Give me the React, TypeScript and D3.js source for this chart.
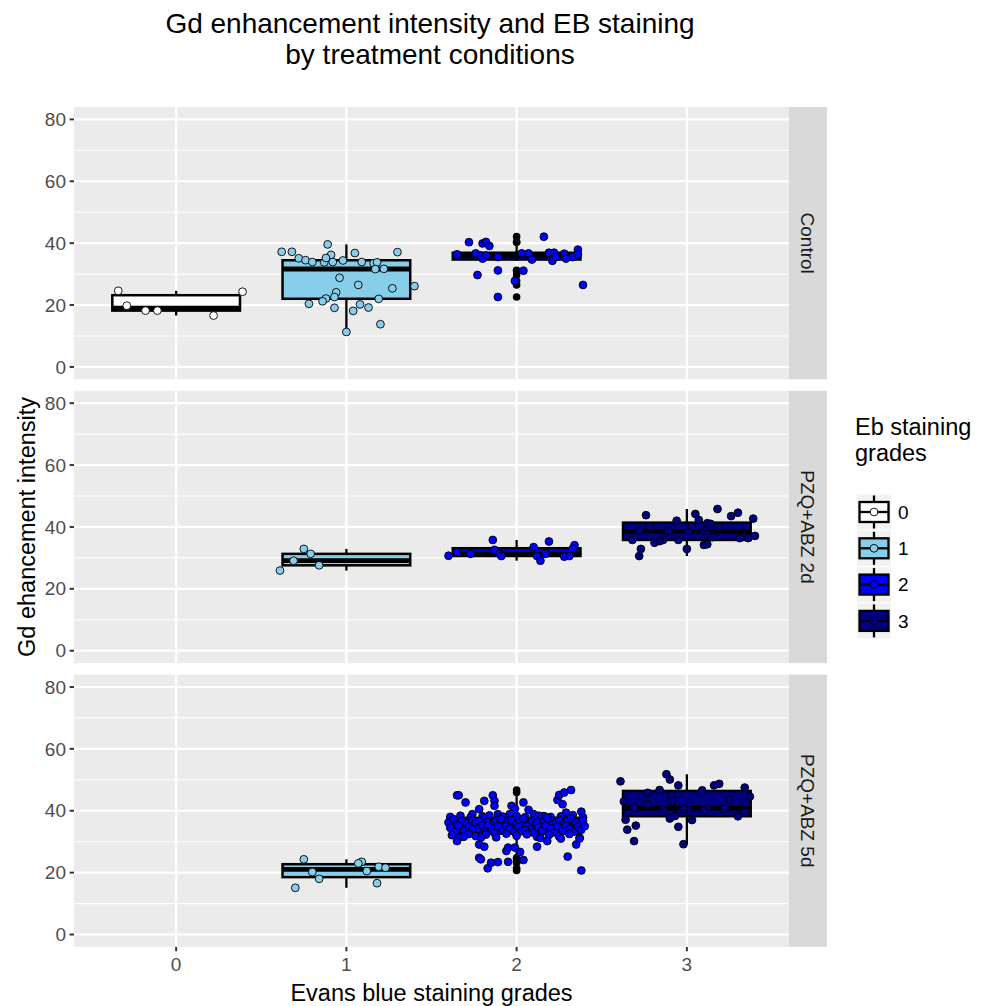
import * as d3 from 'd3'

// facets, grades and axis ticks
const facets = ['Control', 'PZQ+ABZ 2d', 'PZQ+ABZ 5d']
const grades = ['0', '1', '2', '3']
const yTicks = [0, 20, 40, 60, 80]
const yMinorTicks = [10, 30, 50, 70]

// Gd enhancement intensity per lesion.
// *Jitter = horizontal jitter of each point (fraction of a category step).
const control0Values = [24.6, 19.8, 18.2, 18.2, 16.6, 24.3]
const control0Jitter = [-0.34, -0.29, -0.18, -0.11, 0.22, 0.39]

const control1Values = [37.2, 37.2, 35.1, 34.5, 33.9, 33.8, 39.6, 36.2, 35.2, 33.9, 34.4, 36.8, 33.9, 33.5, 33.8, 31.6, 31.7, 37.1,
  28.8, 26.5, 25.4, 26.1, 24.1, 22.6, 22.1, 21.2, 22.0, 20.4, 19.1, 18.1, 20.2, 19.2, 13.8, 11.3]
const control1Jitter = [-0.38, -0.32, -0.28, -0.24, -0.2, -0.13, -0.11, -0.09, -0.12, -0.08, -0.02, 0.05, 0.09, 0.16, 0.18, 0.17, 0.22, 0.3,
  -0.04, 0.07, 0.27, 0.4, -0.06, -0.07, -0.12, -0.14, 0.19, -0.22, -0.07, 0.04, 0.08, 0.13, 0.2, 0.0]

const control2Values = [40.3, 39.9, 40.4, 39.1, 42.1, 36.4, 36.7, 36.0, 35.0, 36.0, 35.5, 36.7, 36.7, 34.7, 36.9, 34.3, 36.9, 35.5,
  36.6, 35.0, 35.5, 37.9, 36.3, 29.7, 31.2, 31.1, 27.8, 26.5, 22.6]
const control2Jitter = [-0.28, -0.2, -0.18, -0.16, 0.16, -0.35, -0.24, -0.21, -0.2, -0.18, -0.11, 0.03, 0.07, 0.09, 0.19, 0.21, 0.22, 0.23,
  0.28, 0.29, 0.33, 0.36, 0.36, -0.23, -0.11, 0.04, -0.01, 0.39, -0.11]

const pzq2d1Values = [32.9, 31.3, 29.1, 27.6, 25.9]
const pzq2d1Jitter = [-0.25, -0.21, -0.31, -0.16, -0.39]

const pzq2d2Values = [35.8, 35.3, 34.1, 33.5, 32.6, 33.0, 31.9, 31.3, 31.3, 31.3, 30.7, 30.6, 30.6, 30.4, 30.6, 29.1]
const pzq2d2Jitter = [-0.14, 0.19, 0.34, 0.1, -0.13, 0.33, -0.35, -0.27, -0.1, 0.17, -0.4, -0.09, 0.12, 0.28, 0.31, 0.14]

const pzq2d3Values = [45.8, 44.6, 43.5, 42.7, 43.8, 44.2, 42.3, 42.0, 41.2, 41.0, 40.1, 40.1, 39.9, 38.8, 38.8, 38.8, 38.3, 37.7,
  36.7, 37.1, 36.4, 36.4, 35.8, 35.8, 35.8, 34.9, 35.4, 34.2, 34.4, 32.9, 32.9, 30.6]
const pzq2d3Jitter = [0.18, 0.3, 0.26, 0.39, -0.24, 0.05, 0.07, -0.06, 0.12, 0.14, 0.03, -0.22, 0.19, -0.28, -0.11, 0.1, 0.01, 0.12,
  0.15, 0.4, 0.36, 0.31, -0.32, -0.14, -0.05, -0.19, -0.16, 0.1, 0.12, 0.0, -0.27, -0.28]

const pzq5d1Values = [24.3, 23.5, 23.0, 21.9, 21.6, 20.5, 20.2, 18.0, 16.6, 15.1]
const pzq5d1Jitter = [-0.25, 0.09, 0.07, 0.19, 0.23, 0.12, -0.2, -0.16, 0.18, -0.3]

const pzq5d2Values = [
  // upper part
  45.0, 45.0, 42.7, 40.5, 43.2, 45.0, 43.2, 41.6, 41.6, 40.7, 42.7, 40.3, 43.5, 45.1, 45.9, 46.7, 42.1, 39.4, 39.7, 38.9, 38.9, 38.9, 38.9, 38.3,
  // just above the box top
  38.0, 38.4, 37.9, 38.2, 38.5, 38.1, 38.3, 37.9, 38.4, 38.0, 38.2, 38.6, 37.9,
  // upper half of the box
  36.2, 37.3, 35.6, 36.8, 35.9, 37.1, 36.0, 35.5, 37.5, 36.4, 35.8, 36.9, 37.6, 35.4, 36.6, 37.0, 35.7, 36.3, 37.4, 35.6, 36.7,
  37.2, 35.9, 36.5, 37.7, 35.5, 36.1, 37.0, 35.8, 36.9, 37.5, 36.2, 35.6, 36.8, 36.6, 36.0, 37.3,
  // lower half of the box
  34.5, 33.2, 35.0, 33.8, 34.7, 32.9, 34.1, 35.2, 33.5, 34.4, 32.8, 34.9, 33.6, 35.1, 34.2, 33.1, 34.8, 33.4, 35.0, 34.0, 32.9,
  34.6, 33.7, 35.2, 34.3, 33.0, 34.9, 33.6, 35.1, 34.1, 33.3, 34.7, 33.9, 35.0, 34.0, 33.8, 35.3,
  // just below the box
  32.1, 31.5, 32.5, 31.8, 32.3, 31.4, 32.6, 31.9, 32.4, 31.6, 32.2, 31.7, 32.5, 31.3,
  // lower part
  30.2, 31.6, 31.3, 29.1, 28.4, 27.0, 28.1, 26.7, 28.1, 28.4, 30.2, 31.2, 31.0, 29.1, 31.0, 24.8, 24.3, 21.4, 23.2, 23.4, 23.5, 24.1, 25.2, 20.7,
]
const pzq5d2Jitter = [
  -0.35, -0.34, -0.3, -0.22, -0.19, -0.14, -0.13, -0.13, -0.03, -0.01, 0.04, 0.07, 0.24, 0.25, 0.28, 0.32, 0.27, 0.29, 0.38, -0.26, -0.11, -0.04, 0.1, 0.16,
  -0.39, -0.33, -0.27, -0.2, -0.16, -0.08, 0.0, 0.05, 0.13, 0.2, 0.26, 0.33, 0.39,
  -0.4, -0.37, -0.35, -0.32, -0.29, -0.26, -0.24, -0.21, -0.19, -0.17, -0.14, -0.12, -0.1, -0.07, -0.05, -0.03, 0.0, 0.02, 0.04, 0.07, 0.09,
  0.11, 0.14, 0.16, 0.18, 0.21, 0.23, 0.25, 0.28, 0.3, 0.32, 0.35, 0.37, 0.39, -0.22, 0.12, -0.09,
  -0.39, -0.36, -0.34, -0.31, -0.28, -0.25, -0.23, -0.2, -0.18, -0.15, -0.13, -0.11, -0.08, -0.06, -0.04, -0.01, 0.01, 0.03, 0.06, 0.08, 0.1,
  0.13, 0.15, 0.17, 0.2, 0.22, 0.24, 0.27, 0.29, 0.31, 0.34, 0.36, 0.38, 0.4, -0.26, 0.05, -0.17,
  -0.38, -0.33, -0.28, -0.24, -0.18, -0.12, -0.06, 0.0, 0.06, 0.12, 0.19, 0.25, 0.31, 0.37,
  -0.35, -0.31, -0.21, -0.22, -0.19, -0.06, -0.05, 0.02, -0.01, 0.12, 0.18, 0.14, 0.26, 0.35, 0.37, -0.22, -0.21, -0.17, -0.15, -0.11, -0.05, 0.04, 0.3, 0.38,
]

const pzq5d3Values = [49.5, 51.8, 50.1, 48.2, 48.2, 48.7, 47.5, 46.6, 46.7, 45.8, 45.0, 44.6, 43.0, 43.6, 43.0, 42.1, 40.4, 41.0,
  40.3, 40.7, 40.7, 40.2, 40.6, 39.6, 38.3, 37.5, 38.2, 37.0, 37.1, 35.2, 33.9, 34.8, 30.2, 29.2]
const pzq5d3Jitter = [-0.39, -0.12, -0.1, -0.05, 0.16, 0.19, 0.34, 0.09, -0.16, -0.23, -0.09, 0.37, -0.37, 0.25, -0.09, -0.23, -0.14, -0.31,
  0.01, -0.02, 0.12, 0.1, 0.22, 0.34, -0.07, -0.1, 0.3, 0.03, -0.36, -0.3, -0.35, -0.05, -0.31, -0.02]

const groups = [
  { facet: 'Control', grade: '0', values: control0Values, jitter: control0Jitter },
  { facet: 'Control', grade: '1', values: control1Values, jitter: control1Jitter },
  { facet: 'Control', grade: '2', values: control2Values, jitter: control2Jitter },
  { facet: 'PZQ+ABZ 2d', grade: '1', values: pzq2d1Values, jitter: pzq2d1Jitter },
  { facet: 'PZQ+ABZ 2d', grade: '2', values: pzq2d2Values, jitter: pzq2d2Jitter },
  { facet: 'PZQ+ABZ 2d', grade: '3', values: pzq2d3Values, jitter: pzq2d3Jitter },
  { facet: 'PZQ+ABZ 5d', grade: '1', values: pzq5d1Values, jitter: pzq5d1Jitter },
  { facet: 'PZQ+ABZ 5d', grade: '2', values: pzq5d2Values, jitter: pzq5d2Jitter },
  { facet: 'PZQ+ABZ 5d', grade: '3', values: pzq5d3Values, jitter: pzq5d3Jitter },
]

const fillColors = ['#FFFFFF', '#87CEEB', '#0000FF', '#000080']
const font = '"Liberation Sans", Arial, sans-serif'

const W = 985
const H = 1006
const panelLeft = 74
const panelRight = 789
const panelTop = 107
const panelH = 272.3
const panelGap = 11.5
const stripW = 38

function boxStats(values: number[]) {
  const s = [...values].sort(d3.ascending)
  const q1 = d3.quantileSorted(s, 0.25)!
  const med = d3.quantileSorted(s, 0.5)!
  const q3 = d3.quantileSorted(s, 0.75)!
  const iqr = q3 - q1
  const inside = s.filter(v => v >= q1 - 1.5 * iqr && v <= q3 + 1.5 * iqr)
  const lo = d3.min(inside)!
  const hi = d3.max(inside)!
  const outliers = s.filter(v => v < lo || v > hi)
  return { q1, med, q3, lo, hi, outliers }
}

export default function App() {
  const x = d3.scalePoint<string>().domain(grades).range([panelLeft, panelRight]).padding(0.6)
  const step = x.step()
  const boxHalf = step * 0.375
  const colorOf = d3.scaleOrdinal<string, string>().domain(grades).range(fillColors)

  const panels = facets.map((f, i) => {
    const top = panelTop + i * (panelH + panelGap)
    const y = d3.scaleLinear().domain([-4, 84]).range([top + panelH, top])
    return { facet: f, top, y }
  })
  const lastBottom = panels[2].top + panelH

  return (
    <div style={{ position: 'absolute', left: 0, top: 0 }}>
      <svg width={W} height={H} style={{ display: 'block', background: '#fff' }} fontFamily={font}>
        <text x={430} y={33} textAnchor="middle" fontSize={28} fill="#000">Gd enhancement intensity and EB staining</text>
        <text x={430} y={64} textAnchor="middle" fontSize={28} fill="#000">by treatment conditions</text>

        {panels.map(p => (
          <g key={p.facet}>
            <rect x={panelLeft} y={p.top} width={panelRight - panelLeft} height={panelH} fill="#EBEBEB" />
            {yMinorTicks.map(t => (
              <line key={'m' + t} x1={panelLeft} x2={panelRight} y1={p.y(t)} y2={p.y(t)} stroke="#fff" strokeWidth={1.1} />
            ))}
            {yTicks.map(t => (
              <line key={'M' + t} x1={panelLeft} x2={panelRight} y1={p.y(t)} y2={p.y(t)} stroke="#fff" strokeWidth={2.2} />
            ))}
            {grades.map(g => (
              <line key={'v' + g} x1={x(g)} x2={x(g)} y1={p.top} y2={p.top + panelH} stroke="#fff" strokeWidth={2.2} />
            ))}
            {yTicks.map(t => (
              <g key={'t' + t}>
                <line x1={panelLeft - 4.4} x2={panelLeft} y1={p.y(t)} y2={p.y(t)} stroke="#333" strokeWidth={2} />
                <text x={panelLeft - 8} y={p.y(t)} dy="0.35em" textAnchor="end" fontSize={19} fill="#4D4D4D">{t}</text>
              </g>
            ))}
            <rect x={panelRight} y={p.top} width={stripW} height={panelH} fill="#D9D9D9" />
            <text transform={`translate(${panelRight + stripW / 2},${p.top + panelH / 2}) rotate(90)`} textAnchor="middle" dy="0.35em"
              fontSize={19} fill="#1A1A1A">{p.facet}</text>
          </g>
        ))}

        {/* boxplot layer */}
        {groups.map(gr => {
          const p = panels[facets.indexOf(gr.facet)]
          const st = boxStats(gr.values)
          const cx = x(gr.grade)!
          return (
            <g key={'b' + gr.facet + gr.grade}>
              {st.outliers.map((v, i) => (
                <circle key={i} cx={cx} cy={p.y(v)} r={3.8} fill="#000" />
              ))}
              <line x1={cx} x2={cx} y1={p.y(st.hi)} y2={p.y(st.q3)} stroke="#000" strokeWidth={2.3} />
              <line x1={cx} x2={cx} y1={p.y(st.q1)} y2={p.y(st.lo)} stroke="#000" strokeWidth={2.3} />
              <rect x={cx - boxHalf} y={p.y(st.q3)} width={boxHalf * 2} height={p.y(st.q1) - p.y(st.q3)}
                fill={colorOf(gr.grade)} stroke="#000" strokeWidth={2.5} />
              <line x1={cx - boxHalf} x2={cx + boxHalf} y1={p.y(st.med)} y2={p.y(st.med)} stroke="#000" strokeWidth={4.8} />
            </g>
          )
        })}

        {/* jitter layer */}
        {groups.map(gr => {
          const p = panels[facets.indexOf(gr.facet)]
          const cx = x(gr.grade)!
          return (
            <g key={'j' + gr.facet + gr.grade}>
              {gr.values.map((v, i) => (
                <circle key={i} cx={cx + gr.jitter[i] * step} cy={p.y(v)} r={3.9}
                  fill={colorOf(gr.grade)} stroke="#000" strokeWidth={0.9} />
              ))}
            </g>
          )
        })}

        {grades.map(g => (
          <g key={'xt' + g}>
            <line x1={x(g)} x2={x(g)} y1={lastBottom} y2={lastBottom + 4.4} stroke="#333" strokeWidth={2} />
            <text x={x(g)} y={lastBottom + 24} textAnchor="middle" fontSize={19} fill="#4D4D4D">{g}</text>
          </g>
        ))}

        <text x={(panelLeft + panelRight) / 2} y={1001} textAnchor="middle" fontSize={23.5} fill="#000">Evans blue staining grades</text>
        <text transform={`translate(27,${(panelTop + lastBottom) / 2}) rotate(-90)`} textAnchor="middle" dy="0.35em"
          fontSize={23.5} fill="#000">Gd ehancement intensity</text>

        {/* legend */}
        <text x={855} y={435} fontSize={23.5} fill="#000">Eb staining</text>
        <text x={855} y={461} fontSize={23.5} fill="#000">grades</text>
        {grades.map((g, i) => {
          const ky = 494.5 + i * 36.3
          const kx = 857
          const kw = 34
          const kh = 35
          return (
            <g key={'lg' + g}>
              <rect x={kx} y={ky} width={kw} height={kh} fill="#F2F2F2" />
              <line x1={kx + kw / 2} x2={kx + kw / 2} y1={ky + 1} y2={ky + kh - 1} stroke="#000" strokeWidth={2.3} />
              <rect x={kx + 2.5} y={ky + 7.5} width={kw - 5} height={kh - 15} fill={colorOf(g)} stroke="#000" strokeWidth={2.3} />
              <line x1={kx + 2.5} x2={kx + kw - 2.5} y1={ky + kh / 2} y2={ky + kh / 2} stroke="#000" strokeWidth={2.3} />
              <circle cx={kx + kw / 2} cy={ky + kh / 2} r={3.9} fill={colorOf(g)} stroke="#000" strokeWidth={0.9} />
              <text x={kx + kw + 7} y={ky + kh / 2} dy="0.35em" fontSize={19} fill="#000">{g}</text>
            </g>
          )
        })}
      </svg>
    </div>
  )
}
